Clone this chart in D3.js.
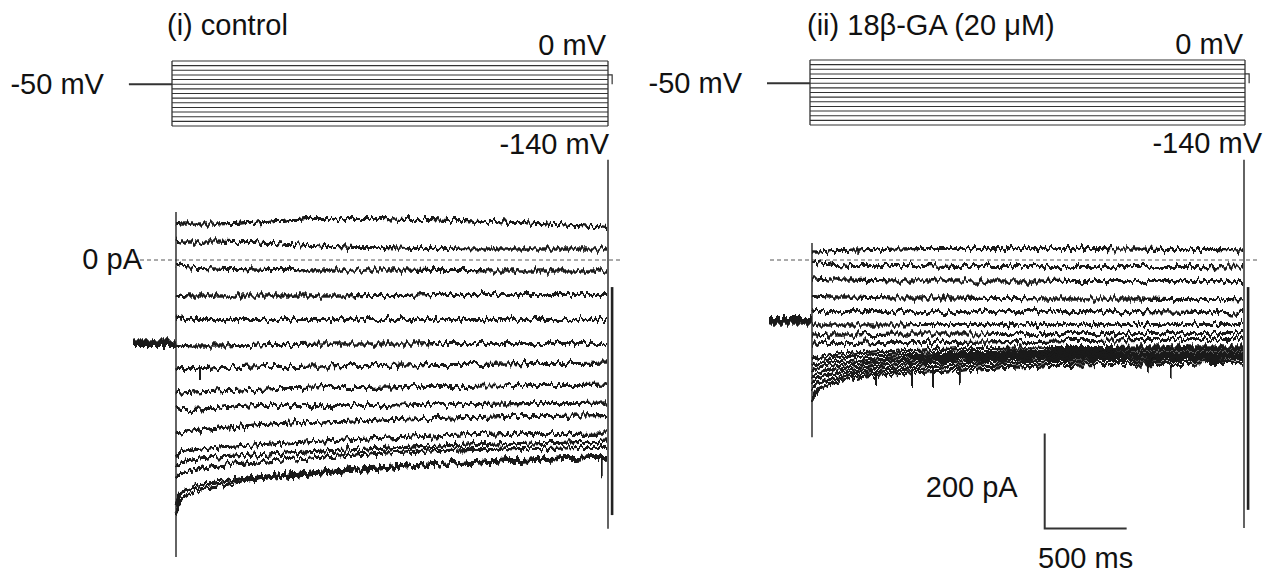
<!DOCTYPE html>
<html>
<head>
<meta charset="utf-8">
<script src="https://cdn.jsdelivr.net/npm/d3@7"></script>
<style>
  body { margin: 0; background: #fff; }
  text { font-family: "Liberation Sans", Arial, sans-serif; font-size: 29px; fill: #111; }
</style>
</head>
<body>
<div id="fig"></div>
<script>
// ---- data ----
// sample times of each current trace (ms after the step onset)
var timeMs = [0, 30, 100, 250, 500, 900, 1400, 2000, 2630];
var stepMs = 2630;
var holdStartMs = -260;
var tailEndMs = 2655;

// voltage protocol (mV)
var stepLevels = [0, -10, -20, -30, -40, -50, -60, -70, -80, -90, -100, -110, -120, -130, -140];
var holdingMv = -50;
var tailMv = -30;

// (i) control currents (pA), one row per step, 0 mV first
var controlTraces = [
  [78, 76, 76, 76, 80, 88, 86, 80, 69],
  [40, 38, 38, 38, 36, 29, 25, 23, 23],
  [-11, -13, -15, -17, -19, -21, -21, -23, -23],
  [-72, -74, -76, -76, -76, -76, -74, -72, -72],
  [-122, -124, -126, -126, -126, -126, -126, -126, -126],
  [-177, -179, -181, -181, -179, -177, -177, -175, -175],
  [-227, -229, -229, -227, -225, -223, -221, -219, -217],
  [-278, -280, -278, -276, -272, -269, -267, -265, -263],
  [-312, -314, -314, -312, -307, -307, -305, -303, -301],
  [-362, -364, -360, -354, -347, -341, -335, -330, -328],
  [-410, -404, -400, -394, -389, -381, -373, -366, -364],
  [-432, -425, -421, -415, -410, -402, -394, -387, -381],
  [-459, -450, -442, -434, -425, -415, -404, -398, -394],
  [-516, -490, -478, -467, -457, -444, -432, -421, -413],
  [-533, -505, -488, -476, -463, -450, -436, -425, -417]
];

// (ii) 18beta-GA currents (pA)
var gaTraces = [
  [17, 17, 19, 21, 23, 25, 25, 23, 21],
  [-6, -6, -8, -11, -11, -13, -13, -13, -15],
  [-40, -40, -42, -42, -44, -44, -44, -46, -46],
  [-74, -76, -78, -78, -80, -80, -82, -82, -84],
  [-107, -109, -109, -109, -109, -109, -109, -109, -112],
  [-137, -137, -137, -137, -137, -135, -135, -135, -135],
  [-160, -160, -158, -158, -156, -156, -154, -154, -154],
  [-177, -177, -175, -175, -173, -173, -171, -168, -168],
  [-206, -204, -200, -196, -192, -187, -185, -183, -183],
  [-221, -217, -211, -204, -200, -196, -192, -189, -189],
  [-234, -227, -221, -215, -208, -202, -198, -196, -196],
  [-246, -240, -232, -223, -215, -208, -204, -200, -200],
  [-259, -250, -242, -232, -223, -215, -208, -204, -204],
  [-274, -263, -253, -240, -232, -223, -215, -211, -208],
  [-295, -278, -263, -248, -240, -232, -223, -219, -215]
];

// holding current before the step (pA)
var controlHoldPA = -175;
var gaHoldPA = -128;

// capacitive transients [top, bottom] (pA)
var controlOnset = [101, -625];
var gaOnset = [36, -373];
var controlOffset = [211, -566];
var gaOffset = [211, -564];
var controlTail = [-57, -537];
var gaTail = [-57, -526];

// single-sample spikes [time ms, from pA, to pA]
var controlSpikes = [[146, -229, -248], [2598, -417, -455]];
var gaSpikes = [[390, -232, -263], [610, -232, -263], [738, -230, -263], [902, -228, -257], [2049, -215, -232], [2189, -215, -248]];

// scale bar
var scaleBarMs = 500;
var scaleBarPA = 200;
var scaleBarAt = [1420, -565];

// ---- drawing ----
var svg = d3.select("#fig").append("svg")
  .attr("width", 1270)
  .attr("height", 576);

// recording noise look: vertical jitter, then a little thickening
var filt = svg.append("defs").append("filter")
  .attr("id", "jitter")
  .attr("filterUnits", "userSpaceOnUse")
  .attr("x", 0).attr("y", 0).attr("width", 1270).attr("height", 576)
  .attr("color-interpolation-filters", "sRGB");
filt.append("feTurbulence")
  .attr("type", "fractalNoise")
  .attr("baseFrequency", "0.3 0.04")
  .attr("numOctaves", 3)
  .attr("seed", 7)
  .attr("result", "noise");
filt.append("feColorMatrix")
  .attr("in", "noise")
  .attr("type", "matrix")
  .attr("values", "0 0 0 0 0.5  1 0 0 0 0  0 0 0 0 0.5  0 0 0 0 1")
  .attr("result", "dy");
filt.append("feDisplacementMap")
  .attr("in", "SourceGraphic")
  .attr("in2", "dy")
  .attr("scale", 12)
  .attr("xChannelSelector", "R")
  .attr("yChannelSelector", "G")
  .attr("result", "shaken");
filt.append("feGaussianBlur")
  .attr("in", "shaken")
  .attr("stdDeviation", 0.6)
  .attr("result", "soft");
filt.append("feComponentTransfer")
  .attr("in", "soft")
  .append("feFuncA")
  .attr("type", "linear")
  .attr("slope", 2.8);

var cy = d3.scaleLinear().domain([0, -200]).range([260, 355]);

function drawPanel(p) {
  var g = svg.append("g");

  var vx = d3.scaleLinear().domain([0, stepMs]).range(p.vRange);
  var vy = d3.scaleLinear().domain([0, -140]).range(p.vY);
  var cx = d3.scaleLinear().domain([0, stepMs]).range(p.cRange);

  // voltage protocol
  var proto = g.append("g").attr("stroke", "#333").attr("fill", "none");
  proto.append("line")
    .attr("x1", vx(holdStartMs)).attr("x2", vx(0))
    .attr("y1", vy(holdingMv)).attr("y2", vy(holdingMv))
    .attr("stroke-width", 2);
  proto.selectAll("line.step")
    .data(stepLevels)
    .enter()
    .append("line")
    .attr("class", "step")
    .attr("x1", vx(0)).attr("x2", vx(stepMs))
    .attr("y1", d => vy(d)).attr("y2", d => vy(d))
    .attr("stroke-width", 1.1);
  proto.append("line")
    .attr("x1", vx(0)).attr("x2", vx(0))
    .attr("y1", vy(stepLevels[0])).attr("y2", vy(stepLevels[stepLevels.length - 1]))
    .attr("stroke-width", 1.3);
  proto.append("line")
    .attr("x1", vx(stepMs)).attr("x2", vx(stepMs))
    .attr("y1", vy(stepLevels[0])).attr("y2", vy(stepLevels[stepLevels.length - 1]))
    .attr("stroke-width", 1.3);
  proto.append("path")
    .attr("d", `M${vx(stepMs)},${vy(tailMv)}H${vx(tailEndMs)}V${vy(holdingMv)}`)
    .attr("stroke-width", 1.2);

  // zero current line
  g.append("line")
    .attr("x1", p.dashX[0]).attr("x2", p.dashX[1])
    .attr("y1", cy(0)).attr("y2", cy(0))
    .attr("stroke", "#555")
    .attr("stroke-width", 1)
    .attr("stroke-dasharray", "4,3");

  // current traces
  var tr = g.append("g")
    .attr("filter", "url(#jitter)")
    .attr("fill", "none")
    .attr("stroke", "#1a1a1a");

  tr.append("line")
    .attr("x1", cx(holdStartMs)).attr("x2", cx(0))
    .attr("y1", cy(p.holdPA)).attr("y2", cy(p.holdPA))
    .attr("stroke-width", 7);

  var line = d3.line()
    .x((d, i) => cx(timeMs[i]))
    .y(d => cy(d))
    .curve(d3.curveMonotoneX);

  tr.selectAll("path.trace")
    .data(p.traces)
    .enter()
    .append("path")
    .attr("class", "trace")
    .attr("d", line)
    .attr("stroke-width", 2.5);

  tr.selectAll("line.spike")
    .data(p.spikes)
    .enter()
    .append("line")
    .attr("class", "spike")
    .attr("x1", d => cx(d[0])).attr("x2", d => cx(d[0]))
    .attr("y1", d => cy(d[1])).attr("y2", d => cy(d[2]))
    .attr("stroke-width", 1);

  // transients (not jittered)
  g.append("line")
    .attr("x1", cx(0)).attr("x2", cx(0))
    .attr("y1", cy(p.onset[0])).attr("y2", cy(p.onset[1]))
    .attr("stroke", "#222").attr("stroke-width", 1.4);
  g.append("line")
    .attr("x1", cx(stepMs) + 1).attr("x2", cx(stepMs) + 1)
    .attr("y1", cy(p.offset[0])).attr("y2", cy(p.offset[1]))
    .attr("stroke", "#222").attr("stroke-width", 1.4);
  g.append("line")
    .attr("x1", cx(tailEndMs) + 1).attr("x2", cx(tailEndMs) + 1)
    .attr("y1", cy(p.tail[0])).attr("y2", cy(p.tail[1]))
    .attr("stroke", "#222").attr("stroke-width", 2.6);

  // labels
  g.append("text").attr("x", p.titleX).attr("y", 35).text(p.title);
  g.append("text").attr("x", vx(stepMs) - 2).attr("y", vy(0) - 6)
    .attr("text-anchor", "end").text("0 mV");
  g.append("text").attr("x", vx(holdStartMs) - 25).attr("y", vy(holdingMv) + 10)
    .attr("text-anchor", "end").text("-50 mV");
  g.append("text").attr("x", vx(stepMs) + p.m140dx).attr("y", vy(-140) + 28)
    .attr("text-anchor", "end").text("-140 mV");

  return { cx: cx };
}

var left = drawPanel({
  title: "(i) control",
  titleX: 167,
  vRange: [172, 608],
  vY: [61, 126],
  cRange: [176, 607],
  dashX: [140, 620],
  traces: controlTraces,
  holdPA: controlHoldPA,
  onset: controlOnset,
  offset: controlOffset,
  tail: controlTail,
  spikes: controlSpikes,
  m140dx: 1
});

var right = drawPanel({
  title: "(ii) 18\u03b2-GA (20 \u03bcM)",
  titleX: 807,
  vRange: [810, 1245],
  vY: [60, 125],
  cRange: [812, 1243],
  dashX: [770, 1258],
  traces: gaTraces,
  holdPA: gaHoldPA,
  onset: gaOnset,
  offset: gaOffset,
  tail: gaTail,
  spikes: gaSpikes,
  m140dx: 17
});

svg.append("text")
  .attr("x", 142).attr("y", cy(0) + 9)
  .attr("text-anchor", "end")
  .text("0 pA");

// scale bar (drawn with the right panel's scales)
var sbx = right.cx;
var bar = svg.append("g").attr("stroke", "#333").attr("stroke-width", 2).attr("fill", "none");
bar.append("path")
  .attr("d", `M${sbx(scaleBarAt[0])},${cy(scaleBarAt[1] + scaleBarPA)}V${cy(scaleBarAt[1])}H${sbx(scaleBarAt[0] + scaleBarMs)}`);
svg.append("text")
  .attr("x", sbx(scaleBarAt[0]) - 27)
  .attr("y", cy(scaleBarAt[1] + scaleBarPA / 2) + 16)
  .attr("text-anchor", "end")
  .text("200 pA");
svg.append("text")
  .attr("x", sbx(scaleBarAt[0] + scaleBarMs / 2))
  .attr("y", cy(scaleBarAt[1]) + 40)
  .attr("text-anchor", "middle")
  .text("500 ms");
</script>
</body>
</html>
